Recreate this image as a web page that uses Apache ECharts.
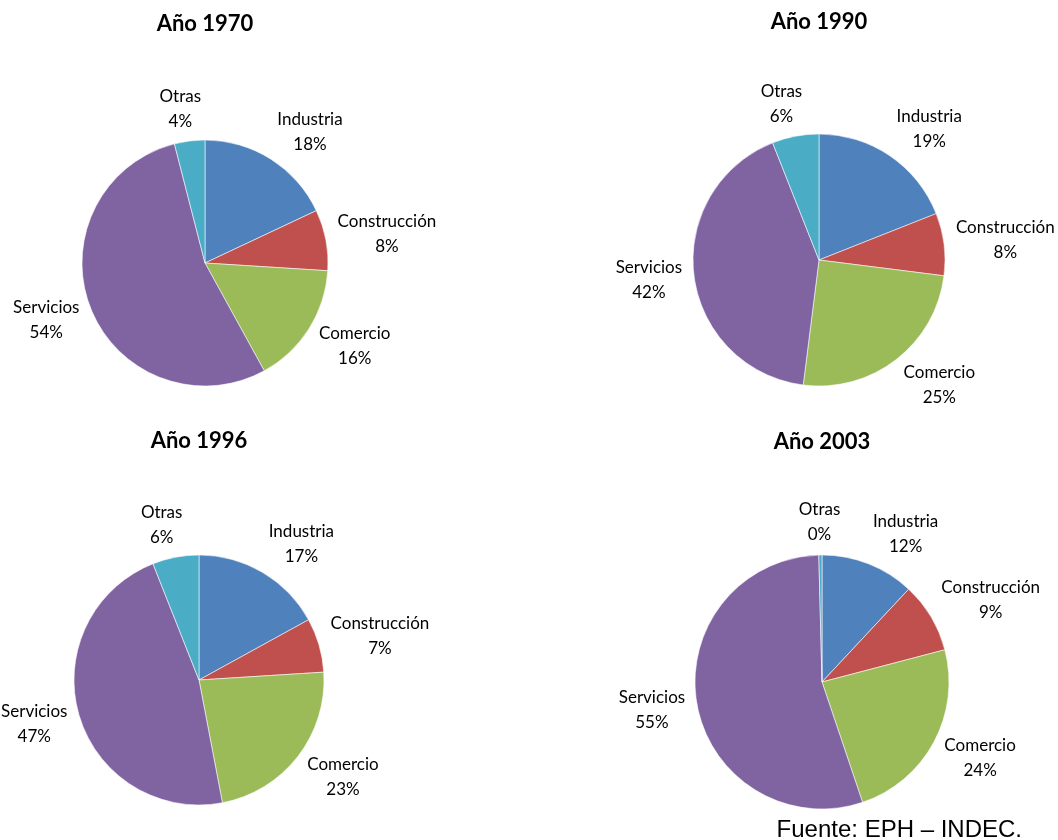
<!DOCTYPE html>
<html>
<head>
<meta charset="utf-8">
<script src="https://cdn.jsdelivr.net/npm/echarts@6/dist/echarts.min.js"></script>
<style>
  html, body { margin: 0; padding: 0; background: #ffffff; }
  #chart { width: 1058px; height: 840px; }
</style>
</head>
<body>
<div id="chart"></div>
<script>
// ---- data ----
const categories = ['Industria', 'Construcción', 'Comercio', 'Servicios', 'Otras'];
const titles = ['Año 1970', 'Año 1990', 'Año 1996', 'Año 2003'];
const values1970 = [18, 8, 16, 54, 4];
const values1990 = [19, 8, 25, 42, 6];
const values1996 = [17, 7, 23, 47, 6];
const values2003 = [12, 9, 24, 55, 0.4];
const sourceNote = 'Fuente: EPH – INDEC.';

// ---- style / layout ----
const seriesValues = [values1970, values1990, values1996, values2003];
const colors = ['#4F81BD', '#C0504D', '#9BBB59', '#8064A2', '#4BACC6'];
const pieLayout = [
  { cx: 205, cy: 263, r: 123, titleTop: 11 },
  { cx: 819, cy: 260, r: 126, titleTop: 9 },
  { cx: 199, cy: 680, r: 125, titleTop: 428 },
  { cx: 822, cy: 682, r: 127, titleTop: 429 }
];
const LABEL_FONT = 'Lato, "Noto Sans", sans-serif';
const GAP = 12;

function clamp(v) { return Math.max(-1, Math.min(1, v)); }

function makeLabelLayout(si) {
  return function (params) {
    const L = pieLayout[si];
    const vals = seriesValues[si];
    const total = vals.reduce((a, b) => a + b, 0);
    let cum = 0;
    for (let i = 0; i < params.dataIndex; i++) cum += vals[i];
    const mid = (cum + vals[params.dataIndex] / 2) / total * Math.PI * 2;
    const ux = Math.sin(mid), uy = -Math.cos(mid);
    const w = params.labelRect.width;
    const h = params.labelRect.height * 0.82;
    const d = L.r + GAP;
    return {
      x: L.cx + d * ux + clamp(ux * 3) * w / 2,
      y: L.cy + d * uy + clamp(uy * 1.0) * h / 2,
      align: 'center',
      verticalAlign: 'middle'
    };
  };
}

const chart = echarts.init(document.getElementById('chart'), null, { renderer: 'canvas' });

const titleComps = titles.map((t, i) => ({
  text: t,
  left: pieLayout[i].cx,
  top: pieLayout[i].titleTop,
  textAlign: 'center',
  padding: 0,
  textStyle: { fontFamily: LABEL_FONT, fontWeight: 'bold', fontSize: 22, lineHeight: 26, color: '#000' }
}));
titleComps.push({
  text: sourceNote,
  right: 36,
  top: 818,
  padding: 0,
  textStyle: { fontFamily: '"Liberation Sans", Arial, sans-serif', fontWeight: 'normal', fontSize: 24, lineHeight: 24, color: '#000' }
});

const series = seriesValues.map((vals, si) => ({
  type: 'pie',
  center: [pieLayout[si].cx, pieLayout[si].cy],
  radius: pieLayout[si].r,
  startAngle: 90,
  clockwise: true,
  avoidLabelOverlap: false,
  silent: true,
  itemStyle: { borderColor: 'rgba(255,255,255,0.7)', borderWidth: 0.8 },
  label: {
    show: true,
    position: 'outside',
    fontFamily: LABEL_FONT,
    fontSize: 17,
    lineHeight: 25,
    color: '#000',
    formatter: p => p.name + '\n' + Math.round(p.percent) + '%'
  },
  labelLine: { show: false },
  labelLayout: makeLabelLayout(si),
  data: categories.map((c, i) => ({ name: c, value: vals[i], itemStyle: { color: colors[i] } }))
}));

chart.setOption({
  animation: false,
  backgroundColor: '#ffffff',
  title: titleComps,
  series: series
});
</script>
</body>
</html>
